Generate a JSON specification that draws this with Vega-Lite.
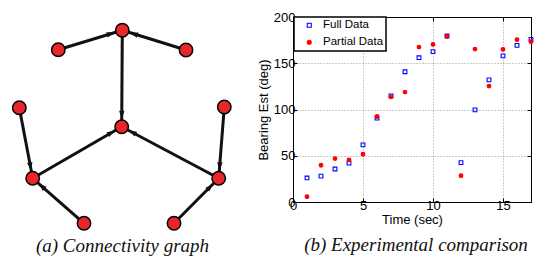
{
  "$schema": "https://vega.github.io/schema/vega-lite/v6.json",
  "padding": {"left": 0, "top": 11, "right": 0, "bottom": 0},
  "spacing": 12,
  "config": {
    "view": {"stroke": null},
    "font": "Liberation Sans",
    "legend": {
      "orient": "none", "legendX": 294, "legendY": 0, "strokeColor": "#000", "strokeWidth": 1.5,
      "fillColor": "#fff", "padding": 2.5, "labelFont": "Liberation Sans", "labelFontSize": 11.5,
      "labelColor": "#000", "symbolSize": 16, "symbolStrokeWidth": 1.1, "rowPadding": 4,
      "symbolOffset": 7, "labelOffset": 8
    }
  },
  "datasets": {
    "nodes": [
      {"id": "T", "x": 122.3, "y": 24.3},
      {"id": "UL", "x": 58.3, "y": 43.7},
      {"id": "UR", "x": 186, "y": 44},
      {"id": "C", "x": 121.7, "y": 120.7},
      {"id": "LT", "x": 19.3, "y": 101.7},
      {"id": "RT", "x": 224.3, "y": 101},
      {"id": "BLH", "x": 32.7, "y": 172.3},
      {"id": "BRH", "x": 218.7, "y": 172.3},
      {"id": "BLL", "x": 84, "y": 217.3},
      {"id": "BRL", "x": 174, "y": 217.3}
    ],
    "edges": [
      {"from": "UL", "to": "T", "sx": 58.3, "sy": 43.7, "tx": 122.3, "ty": 24.3},
      {"from": "UR", "to": "T", "sx": 186, "sy": 44, "tx": 122.3, "ty": 24.3},
      {"from": "T", "to": "C", "sx": 122.3, "sy": 24.3, "tx": 121.7, "ty": 120.7},
      {"from": "LT", "to": "BLH", "sx": 19.3, "sy": 101.7, "tx": 32.7, "ty": 172.3},
      {"from": "BLL", "to": "BLH", "sx": 84, "sy": 217.3, "tx": 32.7, "ty": 172.3},
      {"from": "BLH", "to": "C", "sx": 32.7, "sy": 172.3, "tx": 121.7, "ty": 120.7},
      {"from": "RT", "to": "BRH", "sx": 224.3, "sy": 101, "tx": 218.7, "ty": 172.3},
      {"from": "BRL", "to": "BRH", "sx": 174, "sy": 217.3, "tx": 218.7, "ty": 172.3},
      {"from": "BRH", "to": "C", "sx": 218.7, "sy": 172.3, "tx": 121.7, "ty": 120.7}
    ],
    "bearing": [
      {"series": "Full Data", "t": 1, "bearing": 26},
      {"series": "Full Data", "t": 2, "bearing": 28},
      {"series": "Full Data", "t": 3, "bearing": 35.7},
      {"series": "Full Data", "t": 4, "bearing": 42},
      {"series": "Full Data", "t": 5, "bearing": 61.7},
      {"series": "Full Data", "t": 6, "bearing": 90.6},
      {"series": "Full Data", "t": 7, "bearing": 114.8},
      {"series": "Full Data", "t": 8, "bearing": 140.8},
      {"series": "Full Data", "t": 9, "bearing": 156},
      {"series": "Full Data", "t": 10, "bearing": 162.5},
      {"series": "Full Data", "t": 11, "bearing": 179.5},
      {"series": "Full Data", "t": 12, "bearing": 42.5},
      {"series": "Full Data", "t": 13, "bearing": 99.6},
      {"series": "Full Data", "t": 14, "bearing": 132},
      {"series": "Full Data", "t": 15, "bearing": 158},
      {"series": "Full Data", "t": 16, "bearing": 169.3},
      {"series": "Full Data", "t": 17, "bearing": 175.8},
      {"series": "Partial Data", "t": 1, "bearing": 5.8},
      {"series": "Partial Data", "t": 2, "bearing": 39.7},
      {"series": "Partial Data", "t": 3, "bearing": 46.9},
      {"series": "Partial Data", "t": 4, "bearing": 45.5},
      {"series": "Partial Data", "t": 5, "bearing": 51.6},
      {"series": "Partial Data", "t": 6, "bearing": 92.4},
      {"series": "Partial Data", "t": 7, "bearing": 113.7},
      {"series": "Partial Data", "t": 8, "bearing": 118.8},
      {"series": "Partial Data", "t": 9, "bearing": 167.5},
      {"series": "Partial Data", "t": 10, "bearing": 170.4},
      {"series": "Partial Data", "t": 11, "bearing": 179},
      {"series": "Partial Data", "t": 12, "bearing": 28.5},
      {"series": "Partial Data", "t": 13, "bearing": 165.3},
      {"series": "Partial Data", "t": 14, "bearing": 125.3},
      {"series": "Partial Data", "t": 15, "bearing": 165},
      {"series": "Partial Data", "t": 16, "bearing": 175.5},
      {"series": "Partial Data", "t": 17, "bearing": 173.3}
    ]
  },
  "hconcat": [
    {
      "width": 245,
      "height": 219,
      "title": {"text": "(a)  Connectivity graph", "orient": "bottom", "font": "Liberation Serif", "fontSize": 19, "fontStyle": "italic", "fontWeight": "normal", "offset": 1, "color": "#111"},
      "layer": [
        {
          "data": {"name": "edges"},
          "mark": {"type": "rule", "strokeWidth": 3, "color": "#111"},
          "encoding": {
            "x": {"field": "sx", "type": "quantitative", "scale": {"domain": [0, 245], "nice": false, "zero": false}, "axis": null},
            "y": {"field": "sy", "type": "quantitative", "scale": {"domain": [11, 230], "reverse": true, "nice": false, "zero": false}, "axis": null},
            "x2": {"field": "tx"},
            "y2": {"field": "ty"}
          }
        },
        {
          "data": {"name": "edges"},
          "transform": [{"calculate": "atan2(datum.ty - datum.sy, datum.tx - datum.sx) * 180 / PI", "as": "heading"}],
          "mark": {"type": "point", "shape": "M-0.5,0L-1,-0.17L-1,0.17Z", "filled": true, "opacity": 1, "color": "#111", "size": 1024},
          "encoding": {
            "x": {"field": "tx", "type": "quantitative", "scale": {"domain": [0, 245], "nice": false, "zero": false}, "axis": null},
            "y": {"field": "ty", "type": "quantitative", "scale": {"domain": [11, 230], "reverse": true, "nice": false, "zero": false}, "axis": null},
            "angle": {"field": "heading", "type": "quantitative", "scale": null}
          }
        },
        {
          "data": {"name": "nodes"},
          "mark": {"type": "point", "shape": "circle", "filled": true, "opacity": 1, "fill": "#e8262b", "stroke": "#000", "strokeWidth": 1.5, "size": 180},
          "encoding": {
            "x": {"field": "x", "type": "quantitative", "scale": {"domain": [0, 245], "nice": false, "zero": false}, "axis": null},
            "y": {"field": "y", "type": "quantitative", "scale": {"domain": [11, 230], "reverse": true, "nice": false, "zero": false}, "axis": null}
          }
        }
      ]
    },
    {
      "width": 238,
      "height": 185,
      "title": {"text": "(b)  Experimental comparison", "orient": "bottom", "frame": "group", "dx": 4, "font": "Liberation Serif", "fontSize": 19, "fontStyle": "italic", "fontWeight": "normal", "offset": 9.5, "color": "#111"},
      "data": {"name": "bearing"},
      "layer": [
        {
          "mark": {"type": "point", "size": 14, "strokeWidth": 1.1, "opacity": 1},
          "encoding": {
            "x": {"field": "t", "type": "quantitative", "title": "Time (sec)",
                  "scale": {"domain": [0, 17], "nice": false, "zero": false},
                  "axis": {"orient": "bottom", "values": [0, 5, 10, 15], "tickSize": -4, "labelPadding": 1.5, "labelFlush": false,
                           "labelFont": "Liberation Sans", "labelFontSize": 13, "labelColor": "#000",
                           "titleFont": "Liberation Sans", "titleFontSize": 13, "titleFontWeight": "normal", "titleColor": "#000", "titlePadding": 1,
                           "tickColor": "#000", "domainColor": "#000", "grid": true, "gridColor": "#999", "gridDash": [1, 2]}},
            "y": {"field": "bearing", "type": "quantitative", "title": "Bearing Est (deg)",
                  "scale": {"domain": [0, 200], "nice": false},
                  "axis": {"orient": "left", "values": [0, 50, 100, 150, 200], "tickSize": -4, "labelPadding": 2,
                           "labelFont": "Liberation Sans", "labelFontSize": 13, "labelColor": "#000",
                           "titleFont": "Liberation Sans", "titleFontSize": 13, "titleFontWeight": "normal", "titleColor": "#000", "titlePadding": 3,
                           "tickColor": "#000", "domainColor": "#000", "grid": true, "gridColor": "#999", "gridDash": [1, 2]}},
            "stroke": {"field": "series", "type": "nominal", "scale": {"range": ["#0000ff", "#ff0000"]}, "legend": {"title": null}},
            "fill": {"field": "series", "type": "nominal", "scale": {"range": ["transparent", "#ff0000"]}, "legend": {"title": null}},
            "shape": {"field": "series", "type": "nominal", "scale": {"range": ["square", "circle"]}, "legend": {"title": null}}
          }
        },
        {
          "mark": {"type": "point", "opacity": 0},
          "encoding": {
            "x": {"field": "t", "type": "quantitative", "title": null,
                  "axis": {"orient": "top", "values": [0, 5, 10, 15], "tickSize": -4, "labels": false, "grid": false, "tickColor": "#000", "domainColor": "#000"}},
            "y": {"field": "bearing", "type": "quantitative", "title": null,
                  "axis": {"orient": "right", "values": [0, 50, 100, 150, 200], "tickSize": -4, "labels": false, "grid": false, "tickColor": "#000", "domainColor": "#000"}}
          }
        }
      ],
      "resolve": {"axis": {"x": "independent", "y": "independent"}}
    }
  ]
}
